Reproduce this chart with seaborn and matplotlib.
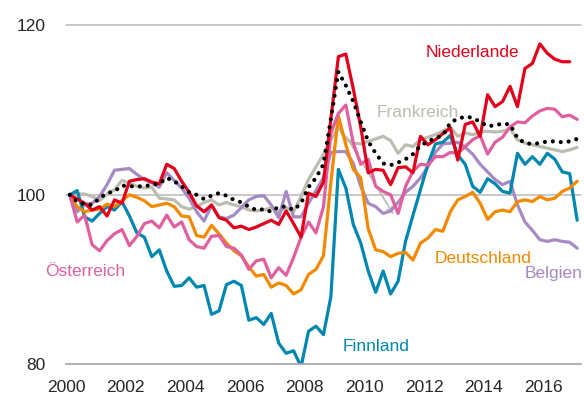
import matplotlib
matplotlib.use("Agg")
import matplotlib.pyplot as plt
import seaborn as sns
import pandas as pd
import numpy as np

# quarterly index values, 2000Q1 .. 2017Q1 (NaN = no value)
niederlande = [100.0, 99.5, 99.0, 98.2, 98.6, 97.5, 99.4, 99.0, 101.6, 101.8, 101.9, 101.5,
               101.3, 103.6, 103.1, 101.6, 100.3, 98.7, 98.0, 98.8, 97.3, 97.0, 96.1, 96.3,
               95.9, 96.2, 96.6, 97.0, 96.5, 98.1, 96.6, 95.0, 100.2, 99.8, 101.5, 109.0,
               116.3, 116.6, 112.5, 108.0, 102.6, 103.0, 102.9, 101.2, 103.2, 103.3, 102.6, 106.9,
               105.9, 106.5, 107.2, 107.9, 104.1, 108.3, 108.6, 106.9, 111.8, 110.4, 111.0, 112.8,
               110.4, 114.9, 115.5, 117.8, 116.7, 116.0, 115.7, 115.7, np.nan]
frankreich = [100.0, 100.1, 100.1, 99.8, 99.3, 100.1, 100.6, 101.7, 101.4, 101.0, 100.8, 100.9,
              99.6, 99.5, 99.4, 98.6, 98.3, 98.6, 99.1, 99.4, 98.8, 99.1, 98.8, 98.6,
              98.2, 98.1, 98.2, 98.5, 98.0, 98.5, 98.0, 99.8, 101.8, 103.3, 104.8, 106.5,
              108.0, 106.6, 106.1, 106.0, 106.3, 106.6, 106.9, 106.4, 104.9, 105.9, 105.7, 106.5,
              106.8, 107.1, 107.5, 108.0, 106.9, 107.3, 107.1, 107.4, 107.5, 107.4, 107.5, 107.8,
              106.5, 106.1, 105.9, 105.7, 105.5, 105.3, 105.1, 105.3, 105.6]
deutschland = [100.0, 98.6, 98.0, 98.2, 98.3, 98.9, 98.6, 99.3, 100.0, 99.7, 99.3, 98.6,
               98.8, 99.0, 98.6, 97.5, 97.4, 95.2, 95.0, 96.4, 95.4, 94.3, 93.4, 92.8,
               91.5, 90.4, 90.6, 89.1, 89.6, 89.3, 88.3, 88.8, 90.6, 91.2, 92.8, 101.5,
               109.3, 105.9, 103.0, 102.0, 96.0, 93.5, 93.3, 92.7, 93.1, 93.2, 92.3, 94.3,
               94.9, 95.9, 95.7, 98.0, 99.4, 99.8, 100.3, 99.0, 97.1, 98.0, 98.2, 98.0,
               99.2, 99.4, 99.2, 99.8, 99.4, 99.6, 100.4, 100.8, 101.6]
finnland = [100.0, 100.5, 97.4, 96.9, 97.8, 98.6, 98.2, 99.2, 97.5, 95.5, 95.0, 92.7,
            93.5, 91.0, 89.2, 89.3, 90.2, 89.1, 89.3, 85.9, 86.3, 89.4, 89.8, 89.3,
            85.2, 85.5, 84.7, 86.0, 82.5, 81.3, 81.6, 79.7, 83.9, 84.5, 83.5, 88.0,
            103.0, 100.8, 96.5, 94.3, 91.0, 88.5, 91.0, 88.3, 89.8, 94.5, 97.6, 100.6,
            103.6, 106.0, 106.2, 107.0, 104.7, 103.6, 101.0, 100.3, 101.9, 101.3, 100.4, 100.2,
            104.9, 103.6, 104.5, 103.6, 104.9, 104.2, 102.7, 102.5, 97.0]
belgien = [100.0, 98.0, 98.9, 99.0, 99.8, 101.2, 102.9, 103.0, 103.1, 102.4, 101.8, 101.4,
           100.9, 102.6, 101.7, 100.8, 99.6, 98.0, 96.9, 98.8, 97.4, 97.2, 97.6, 98.5,
           99.4, 99.8, 99.9, 98.8, 97.3, 100.4, 97.4, 97.4, 99.0, 100.5, 102.0, 105.0,
           105.1, 105.1, 103.7, 101.0, 99.0, 98.6, 97.8, 98.1, 99.1, 100.3, 101.0, 102.0,
           103.3, 105.0, 106.0, 106.1, 106.2, 105.6, 104.8, 103.6, 102.7, 101.8, 101.2, 101.6,
           98.8, 96.8, 95.8, 94.7, 94.5, 94.7, 94.5, 94.4, 93.7]
oesterreich = [100.0, 96.8, 97.6, 94.1, 93.4, 94.6, 95.4, 95.9, 94.0, 95.1, 96.6, 96.9,
               96.1, 97.6, 96.2, 96.8, 94.7, 93.9, 93.7, 95.1, 95.2, 93.9, 93.7, 92.9,
               91.2, 92.2, 92.4, 90.2, 91.4, 90.5, 92.6, 95.0, 96.8, 95.5, 98.6, 107.3,
               109.6, 110.6, 106.1, 103.6, 104.2, 101.0, 100.4, 100.0, 97.8, 101.0, 102.8, 103.6,
               103.5, 104.5, 104.5, 105.0, 104.9, 105.7, 106.5, 107.0, 104.8, 106.2, 106.8, 108.0,
               108.6, 108.5, 109.3, 109.9, 110.2, 110.1, 109.2, 109.4, 108.9]
euroraum = [100.0, 99.2, 98.9, 98.8, 99.6, 100.2, 100.4, 101.1, 101.0, 101.0, 101.0, 101.2,
            101.3, 102.0, 101.6, 101.0, 100.3, 100.0, 99.5, 99.9, 100.2, 99.9, 99.4, 99.1,
            98.6, 98.2, 98.3, 98.0, 98.6, 98.6, 98.2, 99.0, 100.9, 102.0, 103.6, 109.0,
            114.5, 112.9, 111.0, 108.6, 106.3, 104.9, 103.7, 103.5, 103.8, 104.2, 104.8, 105.8,
            106.3, 106.7, 107.0, 108.5, 109.0, 109.2, 109.1, 108.6, 108.1, 108.2, 108.4, 108.3,
            106.7, 106.1, 106.0, 106.1, 106.3, 106.3, 106.2, 106.3, 106.6]

quarters = 2000.125 + np.arange(len(euroraum)) / 4
year_ticks = list(range(2000, 2018))
year_labels = [str(y) if y % 2 == 0 else "" for y in year_ticks]

series = {
    "Frankreich": frankreich,
    "Belgien": belgien,
    "Finnland": finnland,
    "Deutschland": deutschland,
    "Österreich": oesterreich,
    "Niederlande": niederlande,
}
colors = {
    "Frankreich": "#BEBCB0",
    "Belgien": "#A58AC4",
    "Finnland": "#0087B0",
    "Deutschland": "#F18A00",
    "Österreich": "#E0609F",
    "Niederlande": "#E2001A",
}

df = pd.concat(
    [pd.DataFrame({"jahr": quarters, "index": vals, "land": name}) for name, vals in series.items()],
    ignore_index=True,
)
df_ez = pd.DataFrame({"jahr": quarters, "index": euroraum})

sns.set_style("white")
plt.rcParams["font.family"] = ["Liberation Sans", "DejaVu Sans"]

fig = plt.figure(figsize=(5.84, 4.0), dpi=100)
ax = fig.add_axes([66 / 584, 1 - 364.3 / 400, (580.9 - 66) / 584, (364.3 - 25.3) / 400])

for y in [100, 120]:
    ax.axhline(y, color="#BFBFBF", lw=1.2, zorder=0, clip_on=False)

sns.lineplot(data=df, x="jahr", y="index", hue="land", hue_order=list(series),
             palette=colors, linewidth=2.3, legend=False, ax=ax, zorder=2)
sns.lineplot(data=df_ez, x="jahr", y="index", color="black", linewidth=3.0,
             dashes=False, ax=ax, zorder=3, linestyle=(0, (0.01, 1.9)),
             solid_capstyle="round", dash_capstyle="round")

# pointer from the Frankreich label area
ax.annotate("", xy=(2011.02, 97.4), xytext=(2009.35, 107.1),
            arrowprops=dict(arrowstyle="->", color="#BEBCB0", lw=1.3), zorder=1)

fs = 12.5
ax.text(2013.63, 116.76, "Niederlande", color=colors["Niederlande"], fontsize=fs, ha="center", va="center")
ax.text(2011.79, 109.73, "Frankreich", color=colors["Frankreich"], fontsize=fs, ha="center", va="center")
ax.text(2000.63, 90.9, "Österreich", color=colors["Österreich"], fontsize=fs, ha="center", va="center")
ax.text(2013.98, 92.5, "Deutschland", color=colors["Deutschland"], fontsize=fs, ha="center", va="center")
ax.text(2015.38, 90.68, "Belgien", color=colors["Belgien"], fontsize=fs, ha="left", va="center", clip_on=False)
ax.text(2010.38, 82.12, "Finnland", color=colors["Finnland"], fontsize=fs, ha="center", va="center")

ax.set_xlim(2000, 2017.25)
ax.set_ylim(80, 120)
ax.set_xticks(year_ticks)
ax.set_xticklabels(year_labels)
ax.set_yticks([80, 100, 120])
ax.set_xlabel("")
ax.set_ylabel("")
ax.tick_params(axis="x", length=6, width=1.2, color="#A6A6A6", direction="out", pad=5, labelsize=fs)
ax.tick_params(axis="y", length=0, pad=15, labelsize=fs)
for side in ["top", "right", "left"]:
    ax.spines[side].set_visible(False)
ax.spines["bottom"].set_color("#A6A6A6")
ax.spines["bottom"].set_linewidth(1.2)

fig.savefig("out.png", dpi=100)
